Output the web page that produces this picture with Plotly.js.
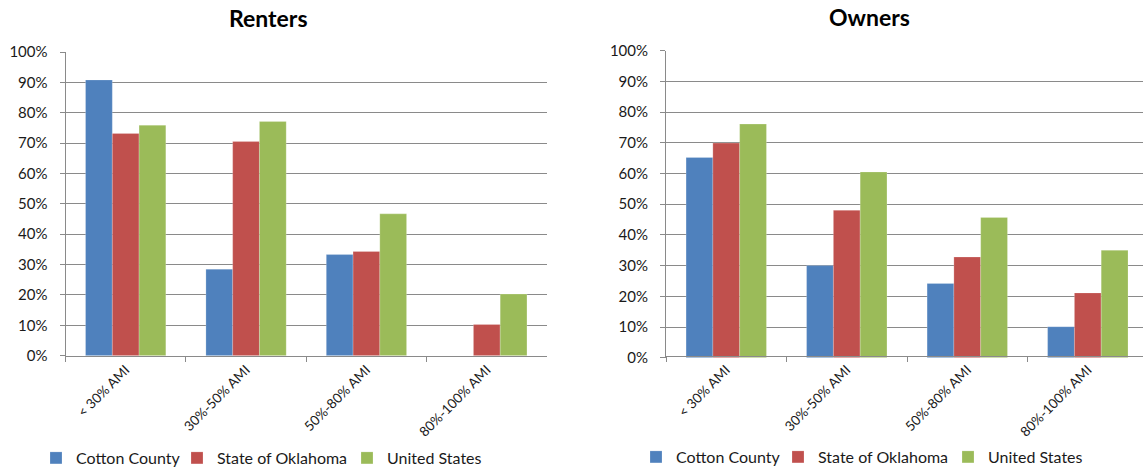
<!DOCTYPE html>
<html>
<head>
<meta charset="utf-8">
<script src="https://cdn.plot.ly/plotly-3.0.1.min.js"></script>
<style>
  html, body { margin: 0; padding: 0; background: #fff; }
  #chart { width: 1143px; height: 470px; }
</style>
</head>
<body>
<div id="chart"></div>
<script>
// Income brackets (share of area median income)
const categories = ['< 30% AMI', '30%-50% AMI', '50%-80% AMI', '80%-100% AMI'];
const seriesNames = ['Cotton County', 'State of Oklahoma', 'United States'];
const seriesColors = ['#4F81BD', '#C0504D', '#9BBB59'];

// Renters: share of households in each bracket
const rentersCotton   = [0.908, 0.285, 0.333, 0.0];
const rentersOklahoma = [0.732, 0.705, 0.343, 0.103];
const rentersUS       = [0.759, 0.771, 0.467, 0.203];

// Owners: share of households in each bracket
const ownersCotton   = [0.652, 0.300, 0.242, 0.101];
const ownersOklahoma = [0.699, 0.480, 0.328, 0.211];
const ownersUS       = [0.761, 0.605, 0.457, 0.350];

const yTickVals = [0, 0.1, 0.2, 0.3, 0.4, 0.5, 0.6, 0.7, 0.8, 0.9, 1.0];
const yTickText = ['0%', '10%', '20%', '30%', '40%', '50%', '60%', '70%', '80%', '90%', '100%'];

const FONT = 'Lato, "Open Sans", sans-serif';
const W = 1143, H = 470;
const px = v => v / W;
const py = v => (H - v) / H;

// each series gets its own one-entry legend so the entries can be spaced freely
function makeTrace(vals, i, xa, ya, legendId) {
  return {
    type: 'bar',
    x: categories,
    y: vals,
    name: seriesNames[i],
    xaxis: xa,
    yaxis: ya,
    legend: legendId,
    showlegend: true,
    marker: { color: seriesColors[i], line: { color: 'rgba(255,255,255,0.35)', width: 0.6 } },
    hoverinfo: 'x+y+name'
  };
}

const data = [
  makeTrace(rentersCotton, 0, 'x', 'y', 'legend'),
  makeTrace(rentersOklahoma, 1, 'x', 'y', 'legend2'),
  makeTrace(rentersUS, 2, 'x', 'y', 'legend3'),
  makeTrace(ownersCotton, 0, 'x2', 'y2', 'legend4'),
  makeTrace(ownersOklahoma, 1, 'x2', 'y2', 'legend5'),
  makeTrace(ownersUS, 2, 'x2', 'y2', 'legend6')
];

const gridColor = '#8a8a8a';

function xAxis(domain, range) {
  return {
    domain: domain,
    type: 'category',
    range: range,
    showline: true,
    linecolor: gridColor,
    linewidth: 1,
    ticks: 'outside',
    tickson: 'boundaries',
    ticklen: 5,
    tickcolor: gridColor,
    tickangle: -45,
    tickfont: { family: FONT, size: 13.5, color: '#1a1a1a' },
    showgrid: false,
    zeroline: false,
    automargin: false,
    fixedrange: true
  };
}

function yAxis(domain, anchor) {
  return {
    domain: domain,
    anchor: anchor,
    range: [0, 1],
    tickvals: yTickVals,
    ticktext: yTickText,
    showline: true,
    linecolor: gridColor,
    linewidth: 1,
    ticks: 'outside',
    ticklen: 5,
    tickcolor: gridColor,
    ticklabelstandoff: 9,
    showgrid: true,
    gridcolor: gridColor,
    gridwidth: 1,
    zeroline: false,
    automargin: false,
    tickfont: { family: FONT, size: 15, color: '#1a1a1a' },
    fixedrange: true
  };
}

function legendAt(textLeft, textMid) {
  return {
    visible: true,
    orientation: 'h',
    yanchor: 'middle',
    xanchor: 'left',
    x: px(textLeft - 40),
    y: py(textMid),
    font: { family: FONT, size: 16, color: '#1a1a1a' },
    bgcolor: 'rgba(0,0,0,0)',
    borderwidth: 0
  };
}

const layout = {
  width: W,
  height: H,
  // fixed margins: legends near the bottom edge must not shrink the plot areas
  margin: { l: 0, r: 0, t: 0, b: 0, pad: 0, autoexpand: false },
  paper_bgcolor: '#ffffff',
  plot_bgcolor: '#ffffff',
  font: { family: FONT, color: '#1a1a1a' },
  showlegend: true,
  bargap: 0.333,
  bargroupgap: 0,
  barmode: 'group',
  xaxis: xAxis([px(65.5), px(547)], [-0.5, 3.5]),
  yaxis: yAxis([py(355.7), py(52)], 'x'),
  xaxis2: xAxis([px(666), 1], [-0.5, 3.458]),
  yaxis2: yAxis([py(357.7), py(50.7)], 'x2'),
  legend:  legendAt(76, 458),
  legend2: legendAt(217, 458),
  legend3: legendAt(387, 458),
  legend4: legendAt(676, 457),
  legend5: legendAt(818, 457),
  legend6: legendAt(988, 457),
  annotations: [
    { text: '<b>Renters</b>', xref: 'paper', yref: 'paper', x: px(268), y: py(18),
      xanchor: 'center', yanchor: 'middle', showarrow: false,
      font: { family: FONT, size: 23, color: '#000' } },
    { text: '<b>Owners</b>', xref: 'paper', yref: 'paper', x: px(869), y: py(17),
      xanchor: 'center', yanchor: 'middle', showarrow: false,
      font: { family: FONT, size: 23, color: '#000' } }
  ]
};

Plotly.newPlot('chart', data, layout, { displayModeBar: false, staticPlot: true });
</script>
</body>
</html>
